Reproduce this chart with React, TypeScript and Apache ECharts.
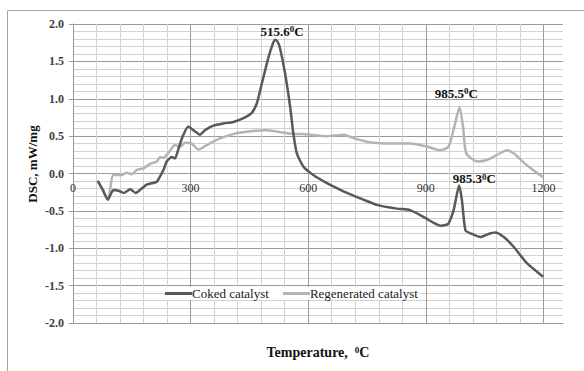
import React, { useEffect, useRef } from 'react';
import * as echarts from 'echarts';

const cokedTemp = [63, 76, 89, 103, 116, 130, 146, 160, 173, 188, 201, 214, 222, 231, 239, 252, 260, 269, 280, 294, 307, 324, 337, 358, 384, 409, 435, 456, 469, 482, 499, 510, 516, 522, 528, 541, 554, 562, 571, 588, 613, 648, 682, 699, 741, 775, 826, 860, 894, 920, 937, 950, 958, 971, 985, 992, 1001, 1014, 1039, 1060, 1077, 1099, 1124, 1158, 1199];
const cokedDSC = [-0.1, -0.22, -0.35, -0.22, -0.23, -0.26, -0.21, -0.26, -0.21, -0.15, -0.13, -0.11, -0.04, 0.05, 0.16, 0.22, 0.2, 0.33, 0.5, 0.63, 0.58, 0.52, 0.58, 0.64, 0.67, 0.69, 0.74, 0.81, 0.94, 1.21, 1.56, 1.74, 1.79, 1.76, 1.68, 1.34, 0.89, 0.54, 0.27, 0.09, -0.02, -0.13, -0.22, -0.26, -0.35, -0.42, -0.47, -0.49, -0.58, -0.66, -0.7, -0.69, -0.67, -0.49, -0.16, -0.35, -0.76, -0.8, -0.85, -0.81, -0.79, -0.85, -0.98, -1.2, -1.38];

const regenTemp = [63, 76, 89, 103, 124, 137, 150, 163, 180, 197, 214, 222, 232, 239, 248, 260, 273, 286, 303, 320, 341, 375, 418, 460, 494, 546, 605, 648, 690, 724, 767, 809, 860, 903, 937, 958, 973, 986, 995, 1003, 1031, 1056, 1082, 1107, 1124, 1158, 1199];
const regenDSC = [-0.1, -0.22, -0.35, -0.02, -0.02, 0.01, -0.01, 0.05, 0.07, 0.13, 0.16, 0.22, 0.21, 0.25, 0.31, 0.38, 0.36, 0.41, 0.4, 0.32, 0.38, 0.47, 0.54, 0.57, 0.58, 0.54, 0.52, 0.5, 0.52, 0.46, 0.41, 0.4, 0.4, 0.36, 0.31, 0.36, 0.63, 0.89, 0.63, 0.27, 0.16, 0.18, 0.25, 0.31, 0.27, 0.11, -0.05];

const seriesNames = ['Coked catalyst', 'Regenerated catalyst'];
const xTickLabels = [0, 300, 600, 900, 1200];
const yTickLabels = [-2.0, -1.5, -1.0, -0.5, 0.0, 0.5, 1.0, 1.5, 2.0];

// peak annotations: [temperature, dsc, label]
const cokedPeaks: [number, number, string][] = [[515.6, 1.79, '515.6'], [985.3, -0.16, '985.3']];
const regenPeaks: [number, number, string][] = [[985.5, 0.89, '985.5']];

const FONT = "'Liberation Serif', 'Times New Roman', serif";
const MAJOR = '#9a9a9a';
const MINOR = '#d2d2d2';

const richSup = {
  a: { fontSize: 13, fontWeight: 'bold', fontFamily: FONT, color: '#111' },
  s: { fontSize: 9, fontWeight: 'bold', fontFamily: FONT, color: '#111', verticalAlign: 'top' },
};

export default function App() {
  const ref = useRef<HTMLDivElement>(null);
  useEffect(() => {
    const chart = echarts.init(ref.current!, null, { renderer: 'svg' });
    const cokedData = cokedTemp.map((t, i) => [t, cokedDSC[i]]);
    const regenData = regenTemp.map((t, i) => [t, regenDSC[i]]);
    const peakOffsets: Record<string, [number, number]> = {
      '515.6': [7, 0],
      '985.3': [15, 2],
      '985.5': [-3, -5],
    };
    const mkPeaks = (peaks: [number, number, string][]) => ({
      symbol: 'circle',
      symbolSize: 0,
      itemStyle: { color: 'transparent' },
      label: {
        show: true,
        position: 'top',
        distance: 2,
        formatter: (p: any) => `{a|${p.name}}{s|0}{a|C}`,
        rich: richSup,
      },
      data: peaks.map(([t, v, name]) => ({
        name,
        coord: [t, v],
        label: { offset: peakOffsets[name] },
      })),
    });

    const option: any = {
      animation: false,
      textStyle: { fontFamily: FONT },
      grid: { left: 73, right: 21, top: 24, bottom: 48, containLabel: false },
      legend: {
        data: seriesNames,
        left: 165,
        top: 287,
        padding: [0, 2, 0, 0],
        icon: 'path://M0,0 H27 V3 H0 Z',
        itemWidth: 27,
        itemHeight: 3,
        itemGap: 14,
        backgroundColor: '#fff',
        textStyle: { fontFamily: FONT, fontSize: 13, color: '#1a1a1a', padding: [0, 0, 0, -5], lineHeight: 12 },
      },
      xAxis: {
        type: 'value',
        min: 0,
        max: 1250,
        interval: 60,
        axisLine: { show: true, onZero: false, lineStyle: { color: MAJOR } },
        axisTick: { show: false },
        axisLabel: {
          margin: -141,
          fontSize: 12,
          fontFamily: FONT,
          color: '#333',
          formatter: (v: number) => (xTickLabels.includes(v) ? String(v) : ''),
        },
        splitLine: {
          show: true,
          showMaxLine: false,
          lineStyle: { color: [MAJOR, MINOR, MINOR, MINOR, MINOR], width: 1 },
        },
      },
      yAxis: {
        type: 'value',
        min: -2,
        max: 2,
        interval: 0.5,
        axisLine: { show: true, onZero: false, lineStyle: { color: MAJOR } },
        axisTick: { show: true, length: 4, lineStyle: { color: MAJOR } },
        axisLabel: {
          margin: 9,
          fontSize: 12,
          fontWeight: 'bold',
          fontFamily: FONT,
          color: '#404040',
          formatter: (v: number) => {
            const m = yTickLabels.find((y) => Math.abs(y - v) < 1e-6);
            return m === undefined ? '' : m.toFixed(1);
          },
        },
        splitLine: { show: true, lineStyle: { color: MAJOR, width: 1 } },
        minorTick: { show: false, splitNumber: 5 },
        minorSplitLine: { show: true, lineStyle: { color: MINOR, width: 1 } },
      },
      series: [
        {
          name: seriesNames[0],
          type: 'line',
          data: cokedData,
          symbol: 'none',
          smooth: 0.2,
          z: 4,
          lineStyle: { color: '#595959', width: 2.5 },
          itemStyle: { color: '#595959' },
          markPoint: mkPeaks(cokedPeaks),
        },
        {
          name: seriesNames[1],
          type: 'line',
          data: regenData,
          symbol: 'none',
          smooth: 0.2,
          z: 3,
          lineStyle: { color: '#b4b4b4', width: 2.5 },
          itemStyle: { color: '#b4b4b4' },
          markPoint: mkPeaks(regenPeaks),
        },
      ],
      graphic: [
        {
          type: 'rect',
          silent: true,
          z: -10,
          shape: { x: 7.5, y: 10.5, width: 700, height: 500 },
          style: { fill: 'none', stroke: '#a6a6a6', lineWidth: 1 },
        },
        {
          type: 'text',
          x: 32,
          y: 164,
          rotation: Math.PI / 2,
          style: {
            text: 'DSC, mW/mg',
            font: `bold 13px ${FONT}`,
            fill: '#111',
            align: 'center',
            verticalAlign: 'middle',
          },
        },
        {
          type: 'text',
          x: 318,
          y: 352,
          style: {
            text: '{t|Temperature,  }{s|0}{t|C}',
            align: 'center',
            verticalAlign: 'middle',
            rich: {
              t: { fontSize: 14, fontWeight: 'bold', fontFamily: FONT, fill: '#111', color: '#111' },
              s: { fontSize: 9, fontWeight: 'bold', fontFamily: FONT, fill: '#111', color: '#111', verticalAlign: 'top' },
            },
          },
        },
      ],
    };
    chart.setOption(option);
    return () => chart.dispose();
  }, []);
  return <div ref={ref} style={{ position: 'absolute', left: 0, top: 0, width: 584, height: 371 }} />;
}
